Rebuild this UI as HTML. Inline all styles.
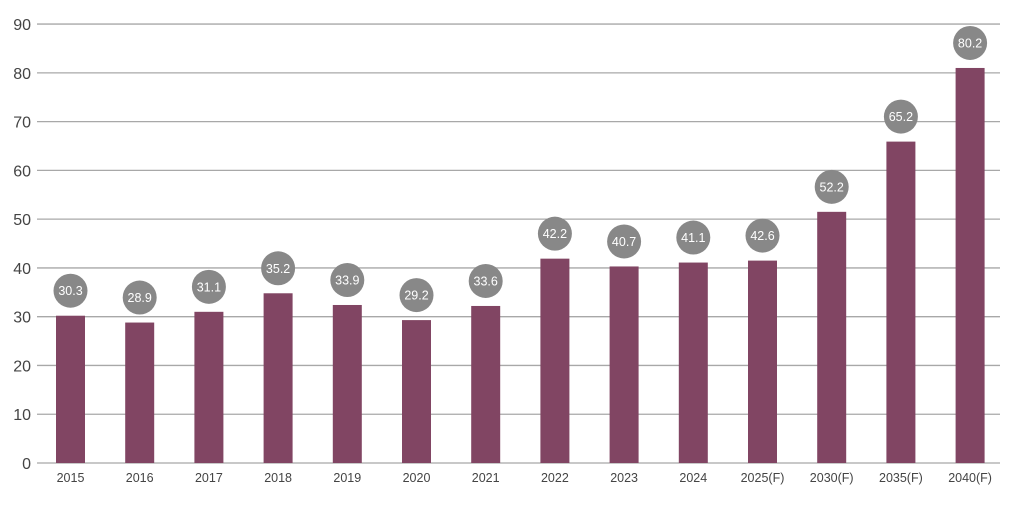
<!DOCTYPE html>
<html><head><meta charset="utf-8"><style>
body{margin:0;background:#fff;width:1024px;height:500px;overflow:hidden}
svg{font-family:"Liberation Sans",sans-serif}
</style></head><body>
<svg id="chart" width="1024" height="500" xmlns="http://www.w3.org/2000/svg"></svg>
<script>
const categories=["2015","2016","2017","2018","2019","2020","2021","2022","2023","2024","2025(F)","2030(F)","2035(F)","2040(F)"];
const barValues=[30.2,28.8,31.0,34.8,32.4,29.3,32.2,41.9,40.3,41.1,41.5,51.5,65.9,81.0];
const labelValues=["30.3","28.9","31.1","35.2","33.9","29.2","33.6","42.2","40.7","41.1","42.6","52.2","65.2","80.2"];
const yTicks=[0,10,20,30,40,50,60,70,80,90];
const NS="http://www.w3.org/2000/svg";
const svg=document.getElementById('chart');
const y0=463,pxPer=4.877;
function yScale(v){return y0-v*pxPer;}
function xScale(i){return 70.5+i*69.2;}
function mk(t,a){const e=document.createElementNS(NS,t);for(const k in a)e.setAttribute(k,a[k]);svg.appendChild(e);return e;}
yTicks.forEach(t=>{
  const l=mk('line',{x1:37,x2:1000,y1:yScale(t),y2:yScale(t),stroke:'#a8a8a8','stroke-width':1.3});
  
  
  const tx=mk('text',{x:31,y:yScale(t)+6,'text-anchor':'end','font-size':16,fill:'#444'});
  tx.textContent=t;
  
  
});
categories.forEach((c,i)=>{
  const x=xScale(i),v=barValues[i];
  const r=mk('rect',{x:x-14.5,y:yScale(v),width:29,height:y0-yScale(v),fill:'#814563'});
  
  
  const cy=yScale(v)-25;
  const ci=mk('circle',{cx:x,cy:cy,r:17,fill:'#888'});
  
  
  const lt=mk('text',{x:x,y:cy+4.5,'text-anchor':'middle','font-size':12.5,fill:'#fff'});
  lt.textContent=labelValues[i];
  
  
  const xt=mk('text',{x:x,y:482,'text-anchor':'middle','font-size':12.5,fill:'#444'});
  xt.textContent=c;
  
  
});
</script>
</body></html>
